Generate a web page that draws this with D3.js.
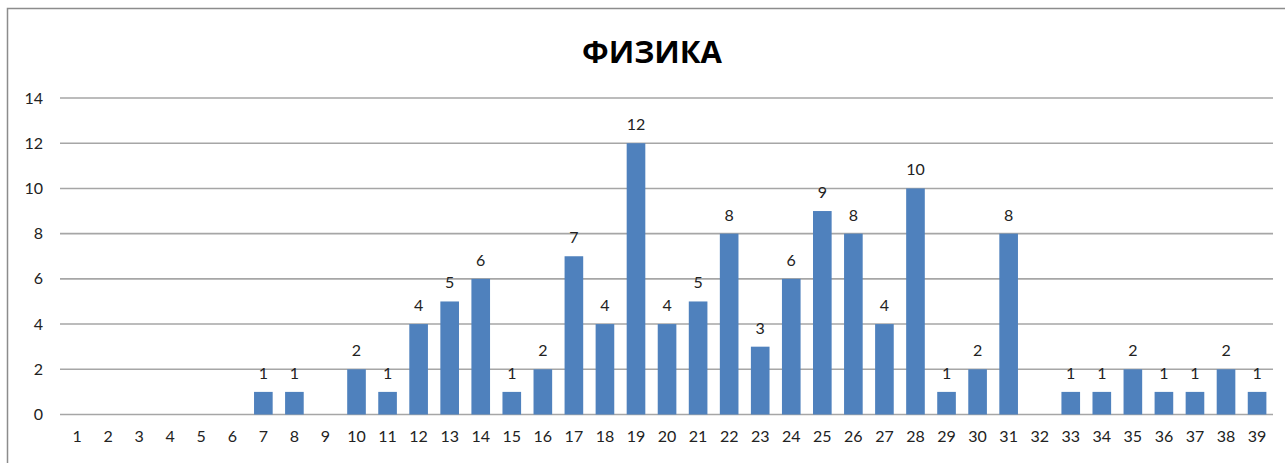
<!DOCTYPE html>
<html>
<head>
<meta charset="utf-8">
<script src="https://cdn.jsdelivr.net/npm/d3@7"></script>
<style>
  html, body { margin: 0; padding: 0; background: #fff; }
  svg { display: block; }
  text { font-family: Lato, "Open Sans", "Noto Sans", sans-serif; }
</style>
</head>
<body>
<svg id="chart" width="1285" height="463"></svg>
<script>
// Number of students per score, physics
const categories = d3.range(1, 40).map(String);
const values = [0, 0, 0, 0, 0, 0, 1, 1, 0, 2, 1, 4, 5, 6, 1, 2, 7, 4, 12, 4, 5, 8, 3, 6, 9, 8, 4, 10, 1, 2, 8, 0, 1, 1, 2, 1, 1, 2, 1];
const yTicks = [0, 2, 4, 6, 8, 10, 12, 14];
const title = "ФИЗИКА";

const svg = d3.select("#chart");
const W = 1285, H = 463;

// outer frame
svg.append("rect")
  .attr("x", 7.5).attr("y", 8.5)
  .attr("width", W).attr("height", H)
  .attr("fill", "#fff").attr("stroke", "#8c8c8c").attr("stroke-width", 1.5);

const x = d3.scaleBand().domain(categories).range([61.5, 1272.6]).paddingInner(0.4).paddingOuter(0.2);
const y = d3.scaleLinear().domain([0, 14]).range([414.5, 98]);

// horizontal gridlines
svg.append("g").selectAll("line").data(yTicks).join("line")
  .attr("x1", 60).attr("x2", 1273)
  .attr("y1", d => y(d)).attr("y2", d => y(d))
  .attr("stroke", "#a6a6a6").attr("stroke-width", 1.6);

// y axis labels
const yAxis = d3.axisLeft(y).tickValues(yTicks).tickSize(0).tickPadding(0);
svg.append("g").attr("transform", "translate(43,0)").call(yAxis)
  .call(g => g.select(".domain").remove())
  .selectAll("text")
  .attr("font-size", 16).attr("fill", "#222")
  .style("font-family", "Lato, 'Open Sans', sans-serif");

// x axis labels
const xAxis = d3.axisBottom(x).tickSize(0).tickPadding(0);
svg.append("g").attr("transform", "translate(0,431)").call(xAxis)
  .call(g => g.select(".domain").remove())
  .selectAll("text")
  .attr("font-size", 16).attr("fill", "#222")
  .style("font-family", "Lato, 'Open Sans', sans-serif");

// bars
svg.append("g").selectAll("rect").data(values).join("rect")
  .attr("x", (d, i) => x(categories[i]))
  .attr("width", x.bandwidth())
  .attr("y", d => y(d))
  .attr("height", d => y(0) - y(d))
  .attr("fill", "#4f81bd");

// value labels above non-zero bars
svg.append("g").selectAll("text").data(values.map((v, i) => ({ v, c: categories[i] })).filter(d => d.v > 0)).join("text")
  .attr("x", d => x(d.c) + x.bandwidth() / 2)
  .attr("y", d => y(d.v) - 13)
  .attr("text-anchor", "middle")
  .attr("font-size", 16).attr("fill", "#222")
  .text(d => d.v);

// title
svg.append("text")
  .attr("x", 652).attr("y", 63)
  .attr("text-anchor", "middle")
  .attr("font-size", 31).attr("font-weight", "bold").attr("fill", "#000")
  .style("font-family", "'Open Sans', 'Noto Sans', sans-serif")
  .text(title);
</script>
</body>
</html>
